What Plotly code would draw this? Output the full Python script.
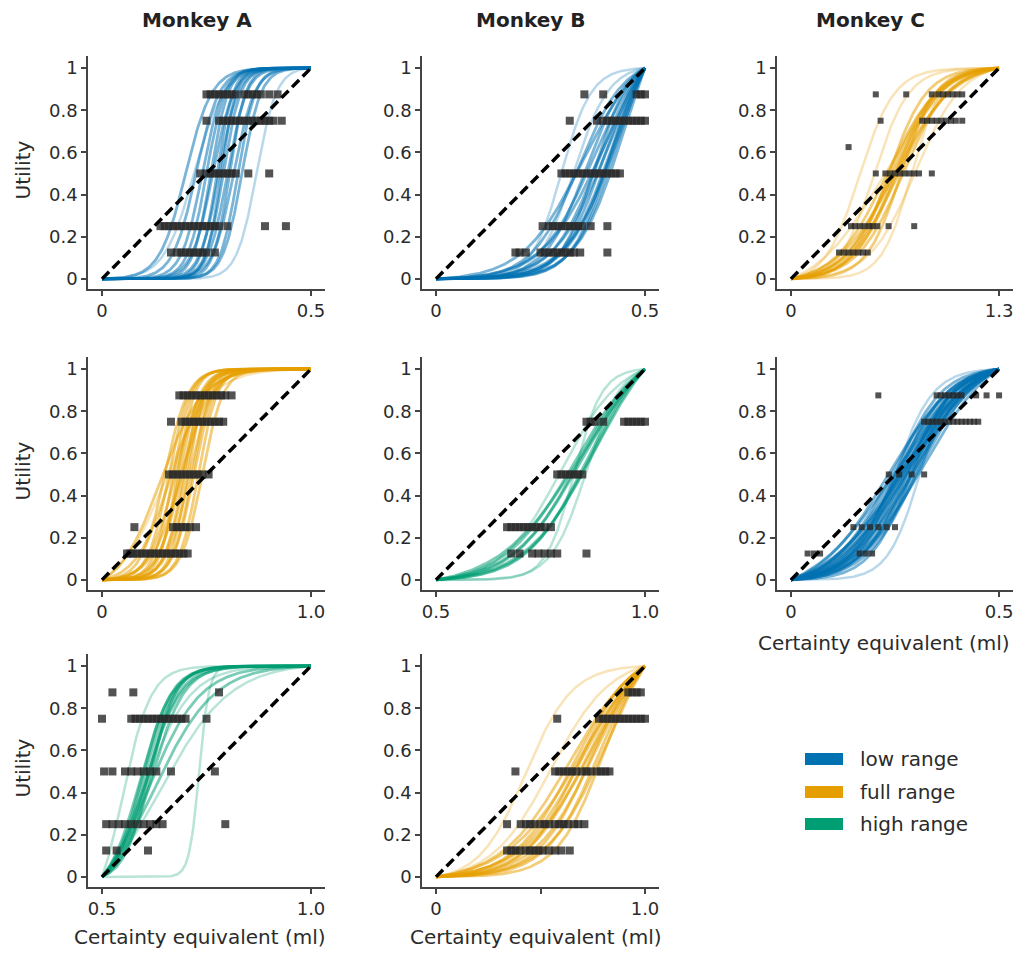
import numpy as np
import plotly.graph_objects as go

# ---------------- data ----------------
COL_TITLES = ["Monkey A", "Monkey B", "Monkey C"]
LEGEND_LABELS = ["low range", "full range", "high range"]
Y_TICKS = [0, 0.2, 0.4, 0.6, 0.8, 1]
Y_TICKTEXT = ["0", "0.2", "0.4", "0.6", "0.8", "1"]

# Panel A1: Monkey A, low range (0 - 0.5 ml)
A1_RANGE = [0.0, 0.5]
A1_XTICKS = [0.0, 0.5]
A1_XTICKTEXT = ["0", "0.5"]
A1_CENTERS = [0.40, 0.45, 0.48, 0.50, 0.52, 0.53, 0.55, 0.56, 0.57, 0.58, 0.60, 0.61, 0.63, 0.65, 0.67]
A1_SLOPES = [16, 18, 20, 22, 24, 20, 26, 22, 28, 24, 22, 26, 20, 24, 22]
A1_FAINT_CENTERS = [0.74, 0.44]
A1_FAINT_SLOPES = [21, 14]
A1_PTS = {
    0.875: [0.25, 0.26, 0.27, 0.28, 0.29, 0.30, 0.31, 0.32, 0.34, 0.35, 0.36, 0.37, 0.38, 0.40, 0.42],
    0.75: [0.25, 0.28, 0.29, 0.30, 0.31, 0.32, 0.33, 0.34, 0.35, 0.36, 0.37, 0.38, 0.39, 0.40, 0.41, 0.43],
    0.5: [0.235, 0.25, 0.26, 0.27, 0.28, 0.29, 0.30, 0.31, 0.32, 0.35, 0.40],
    0.25: [0.14, 0.15, 0.16, 0.17, 0.18, 0.19, 0.20, 0.21, 0.22, 0.23, 0.24, 0.25, 0.26, 0.27, 0.28, 0.30, 0.39, 0.44],
    0.125: [0.165, 0.18, 0.19, 0.20, 0.21, 0.22, 0.23, 0.24, 0.25, 0.27],
}

# Panel B1: Monkey B, low range (0 - 0.5 ml)
B1_RANGE = [0.0, 0.5]
B1_XTICKS = [0.0, 0.5]
B1_XTICKTEXT = ["0", "0.5"]
B1_CENTERS = [0.68, 0.72, 0.75, 0.78, 0.80, 0.82, 0.84, 0.86, 0.88, 0.90, 0.76, 0.80, 0.83, 0.85, 0.70]
B1_SLOPES = [9, 10, 8, 9, 10, 8, 9, 10, 8, 9, 12, 7, 11, 9, 7]
B1_FAINT_CENTERS = [0.60, 0.66]
B1_FAINT_SLOPES = [14, 12]
B1_PTS = {
    0.875: [0.355, 0.40, 0.48, 0.49, 0.50],
    0.75: [0.32, 0.385, 0.40, 0.41, 0.42, 0.43, 0.44, 0.45, 0.46, 0.47, 0.48, 0.49, 0.50],
    0.5: [0.30, 0.31, 0.32, 0.33, 0.34, 0.35, 0.36, 0.37, 0.38, 0.39, 0.40, 0.41, 0.42, 0.43, 0.44],
    0.25: [0.255, 0.27, 0.28, 0.29, 0.30, 0.31, 0.32, 0.33, 0.34, 0.35, 0.37, 0.41],
    0.125: [0.19, 0.20, 0.215, 0.25, 0.26, 0.27, 0.28, 0.29, 0.30, 0.31, 0.32, 0.33, 0.345, 0.41],
}

# Panel C1: Monkey C, full range (0 - 1.3 ml)
C1_RANGE = [0.0, 1.3]
C1_XTICKS = [0.0, 1.3]
C1_XTICKTEXT = ["0", "1.3"]
C1_CENTERS = [0.46, 0.48, 0.50, 0.52, 0.54, 0.50, 0.47, 0.53, 0.49, 0.51]
C1_SLOPES = [8, 9, 7, 8, 9, 10, 11, 12, 8.5, 9.5]
C1_FAINT_CENTERS = [0.33, 0.40, 0.58, 0.60, 0.44]
C1_FAINT_SLOPES = [12, 12, 14, 9, 6]
C1_PTS = {
    0.875: [0.53, 0.72, 0.88, 0.92, 0.95, 0.98, 1.01, 1.04, 1.07],
    0.75: [0.56, 0.82, 0.85, 0.88, 0.91, 0.94, 0.97, 1.00, 1.03, 1.07],
    0.625: [0.36],
    0.5: [0.53, 0.59, 0.62, 0.65, 0.68, 0.71, 0.74, 0.77, 0.80, 0.88],
    0.25: [0.375, 0.40, 0.43, 0.46, 0.49, 0.51, 0.54, 0.61, 0.77],
    0.125: [0.30, 0.33, 0.36, 0.39, 0.42, 0.45, 0.48],
}

# Panel A2: Monkey A, full range (0 - 1.0 ml)
A2_RANGE = [0.0, 1.0]
A2_XTICKS = [0.0, 1.0]
A2_XTICKTEXT = ["0", "1.0"]
A2_CENTERS = [0.28, 0.30, 0.32, 0.34, 0.35, 0.36, 0.37, 0.38, 0.39, 0.40, 0.41, 0.42, 0.43, 0.44, 0.46, 0.48, 0.33, 0.38]
A2_SLOPES = [10, 18, 20, 22, 16, 24, 20, 18, 22, 20, 24, 18, 22, 20, 22, 20, 12, 14]
A2_FAINT_CENTERS = [0.30]
A2_FAINT_SLOPES = [9]
A2_PTS = {
    0.875: [0.37, 0.39, 0.41, 0.43, 0.45, 0.47, 0.49, 0.51, 0.53, 0.55, 0.57, 0.59, 0.62],
    0.75: [0.33, 0.38, 0.40, 0.42, 0.44, 0.46, 0.48, 0.50, 0.52, 0.54, 0.56, 0.58],
    0.5: [0.32, 0.34, 0.36, 0.38, 0.40, 0.42, 0.44, 0.46, 0.48, 0.51],
    0.25: [0.155, 0.34, 0.36, 0.38, 0.40, 0.42, 0.45],
    0.125: [0.12, 0.135, 0.15, 0.17, 0.19, 0.21, 0.23, 0.25, 0.27, 0.29, 0.31, 0.33, 0.35, 0.37, 0.39, 0.41],
}

# Panel B2: Monkey B, high range (0.5 - 1.0 ml)
B2_RANGE = [0.5, 1.0]
B2_XTICKS = [0.5, 1.0]
B2_XTICKTEXT = ["0.5", "1.0"]
B2_CENTERS = [0.66, 0.68, 0.70, 0.72, 0.74, 0.70, 0.76]
B2_SLOPES = [6, 6.5, 6, 7, 6.5, 5, 6]
B2_FAINT_CENTERS = [0.66, 0.60, 0.72]
B2_FAINT_SLOPES = [15, 7, 12]
B2_PTS = {
    0.75: [0.86, 0.87, 0.88, 0.90, 0.95, 0.96, 0.97, 0.98, 0.99, 1.00],
    0.5: [0.79, 0.80, 0.81, 0.82, 0.83, 0.84, 0.85],
    0.25: [0.67, 0.68, 0.69, 0.70, 0.71, 0.72, 0.73, 0.74, 0.75, 0.76, 0.775],
    0.125: [0.68, 0.70, 0.73, 0.745, 0.76, 0.775, 0.79, 0.86],
}

# Panel C2: Monkey C, low range (0 - 0.5 ml)
C2_RANGE = [0.0, 0.5]
C2_XTICKS = [0.0, 0.5]
C2_XTICKTEXT = ["0", "0.5"]
C2_CENTERS = [0.46, 0.48, 0.50, 0.51, 0.52, 0.53, 0.54, 0.55, 0.56, 0.57, 0.58, 0.59, 0.60, 0.62, 0.64,
              0.50, 0.55, 0.58, 0.53, 0.56, 0.49, 0.52, 0.57, 0.60, 0.54, 0.61]
C2_SLOPES = [6, 7, 6.5, 8, 7, 6, 7.5, 8, 6.5, 7, 8, 7, 6, 7, 6, 9, 5, 10, 5.5, 9, 5, 8.5, 5.5, 7.5, 6.5, 8]
C2_FAINT_CENTERS = [0.50, 0.62]
C2_FAINT_SLOPES = [11, 13]
C2_PTS = {
    0.875: [0.21, 0.35, 0.36, 0.37, 0.38, 0.39, 0.40, 0.41, 0.445, 0.47, 0.50],
    0.75: [0.32, 0.33, 0.34, 0.35, 0.36, 0.37, 0.38, 0.39, 0.40, 0.41, 0.42, 0.43, 0.44, 0.45],
    0.5: [0.235, 0.26, 0.29, 0.32],
    0.25: [0.15, 0.17, 0.19, 0.21, 0.23, 0.25],
    0.125: [0.04, 0.055, 0.07, 0.165, 0.18, 0.195],
}

# Panel A3: Monkey A, high range (0.5 - 1.0 ml)
A3_RANGE = [0.5, 1.0]
A3_XTICKS = [0.5, 1.0]
A3_XTICKTEXT = ["0.5", "1.0"]
A3_CENTERS = [0.18, 0.20, 0.22, 0.24, 0.21, 0.23, 0.22, 0.25, 0.19, 0.215]
A3_SLOPES = [13, 14, 15, 13, 12, 16, 8, 7, 14, 13]
A3_FAINT_CENTERS = [0.28, 0.20, 0.10, 0.465]
A3_FAINT_SLOPES = [6, 9, 15, 42]
A3_PTS = {
    0.875: [0.525, 0.575, 0.78],
    0.75: [0.50, 0.57, 0.58, 0.59, 0.60, 0.61, 0.62, 0.63, 0.64, 0.65, 0.66, 0.67, 0.68, 0.69, 0.70, 0.75],
    0.5: [0.505, 0.525, 0.555, 0.57, 0.585, 0.60, 0.615, 0.63, 0.665, 0.77],
    0.25: [0.51, 0.525, 0.54, 0.555, 0.57, 0.585, 0.60, 0.615, 0.63, 0.645, 0.795],
    0.125: [0.51, 0.535, 0.61],
}

# Panel B3: Monkey B, full range (0 - 1.0 ml)
B3_RANGE = [0.0, 1.0]
B3_XTICKS = [0.0, 0.5, 1.0]
B3_XTICKTEXT = ["0", "", "1.0"]
B3_CENTERS = [0.66, 0.68, 0.70, 0.72, 0.74, 0.76, 0.78, 0.80, 0.70, 0.75, 0.64, 0.82]
B3_SLOPES = [7, 8, 6.5, 7, 8, 7, 8, 9, 5.5, 6, 6, 7]
B3_FAINT_CENTERS = [0.43, 0.55]
B3_FAINT_SLOPES = [9, 7]
B3_PTS = {
    0.875: [0.92, 0.94, 0.96, 0.98],
    0.75: [0.58, 0.78, 0.80, 0.82, 0.84, 0.86, 0.88, 0.90, 0.92, 0.94, 0.96, 0.98, 1.00],
    0.5: [0.38, 0.57, 0.59, 0.61, 0.63, 0.65, 0.67, 0.70, 0.72, 0.74, 0.77, 0.79, 0.81, 0.83],
    0.25: [0.34, 0.405, 0.43, 0.45, 0.47, 0.50, 0.52, 0.54, 0.57, 0.59, 0.61, 0.63, 0.66, 0.68, 0.71],
    0.125: [0.34, 0.36, 0.38, 0.40, 0.43, 0.45, 0.47, 0.49, 0.51, 0.54, 0.57, 0.60, 0.64],
}

# ---------------- styling / layout ----------------
W, H = 1016, 956
FONT = "DejaVu Sans"
TXT = "#2b2b2b"
AXC = "#444444"
COLORS = {"low": (0, 114, 178), "full": (230, 159, 0), "high": (0, 158, 115)}

COL_PX = {"A": (88, 325), "B": (422, 659), "C": (777, 1013)}
ROW_PX = {1: (56, 289), 2: (357, 590), 3: (654, 887)}

PANELS = [
    ("A", 1, "low", A1_RANGE, A1_XTICKS, A1_XTICKTEXT, A1_CENTERS, A1_SLOPES, A1_FAINT_CENTERS, A1_FAINT_SLOPES, A1_PTS, 8),
    ("B", 1, "low", B1_RANGE, B1_XTICKS, B1_XTICKTEXT, B1_CENTERS, B1_SLOPES, B1_FAINT_CENTERS, B1_FAINT_SLOPES, B1_PTS, 8),
    ("C", 1, "full", C1_RANGE, C1_XTICKS, C1_XTICKTEXT, C1_CENTERS, C1_SLOPES, C1_FAINT_CENTERS, C1_FAINT_SLOPES, C1_PTS, 6),
    ("A", 2, "full", A2_RANGE, A2_XTICKS, A2_XTICKTEXT, A2_CENTERS, A2_SLOPES, A2_FAINT_CENTERS, A2_FAINT_SLOPES, A2_PTS, 8),
    ("B", 2, "high", B2_RANGE, B2_XTICKS, B2_XTICKTEXT, B2_CENTERS, B2_SLOPES, B2_FAINT_CENTERS, B2_FAINT_SLOPES, B2_PTS, 8),
    ("C", 2, "low", C2_RANGE, C2_XTICKS, C2_XTICKTEXT, C2_CENTERS, C2_SLOPES, C2_FAINT_CENTERS, C2_FAINT_SLOPES, C2_PTS, 6),
    ("A", 3, "high", A3_RANGE, A3_XTICKS, A3_XTICKTEXT, A3_CENTERS, A3_SLOPES, A3_FAINT_CENTERS, A3_FAINT_SLOPES, A3_PTS, 8),
    ("B", 3, "full", B3_RANGE, B3_XTICKS, B3_XTICKTEXT, B3_CENTERS, B3_SLOPES, B3_FAINT_CENTERS, B3_FAINT_SLOPES, B3_PTS, 8),
]


def utility_curve(t, c, k):
    """normalised logistic utility on [0,1] -> [0,1]"""
    L = 1.0 / (1.0 + np.exp(-k * (t - c)))
    L0 = 1.0 / (1.0 + np.exp(k * c))
    L1 = 1.0 / (1.0 + np.exp(-k * (1 - c)))
    return (L - L0) / (L1 - L0)


def rgba(rgb, a):
    return "rgba(%d,%d,%d,%.2f)" % (rgb[0], rgb[1], rgb[2], a)


fig = go.Figure()
layout = {}
tgrid = np.linspace(0, 1, 241)

for i, (col, row, rng, xr, xt, xtt, cs, ks, fcs, fks, pts, msize) in enumerate(PANELS, start=1):
    xa = "x" if i == 1 else "x%d" % i
    ya = "y" if i == 1 else "y%d" % i
    rgb = COLORS[rng]
    xmin, xmax = xr
    span = xmax - xmin
    xs = xmin + tgrid * span

    for c, k in zip(fcs, fks):
        fig.add_trace(go.Scatter(x=xs, y=utility_curve(tgrid, c, k), mode="lines",
                                 line=dict(color=rgba(rgb, 0.28), width=2.5),
                                 xaxis=xa, yaxis=ya, showlegend=False, hoverinfo="skip"))
    for c, k in zip(cs, ks):
        fig.add_trace(go.Scatter(x=xs, y=utility_curve(tgrid, c, k), mode="lines",
                                 line=dict(color=rgba(rgb, 0.52), width=2.8),
                                 xaxis=xa, yaxis=ya, showlegend=False, hoverinfo="skip"))

    px_, py_ = [], []
    for u, xv in pts.items():
        px_ += list(xv)
        py_ += [u] * len(xv)
    fig.add_trace(go.Scatter(x=px_, y=py_, mode="markers",
                             marker=dict(symbol="square", size=msize, color="rgba(40,40,40,0.8)",
                                         line=dict(width=0)),
                             xaxis=xa, yaxis=ya, showlegend=False))

    fig.add_trace(go.Scatter(x=[xmin, xmax], y=[0, 1], mode="lines",
                             line=dict(color="black", width=3.5, dash="10px,5px"),
                             xaxis=xa, yaxis=ya, showlegend=False))

    c0, c1 = COL_PX[col]
    r0, r1 = ROW_PX[row]
    pad = 0.067 * span
    common = dict(showline=True, linecolor=AXC, linewidth=1.5, ticks="outside", ticklen=5,
                  tickwidth=1.5, tickcolor=AXC, showgrid=False, zeroline=False,
                  tickfont=dict(family=FONT, size=18, color=TXT))
    layout["xaxis" if i == 1 else "xaxis%d" % i] = dict(
        domain=[c0 / W, c1 / W], anchor=ya, range=[xmin - pad, xmax + pad],
        tickvals=xt, ticktext=xtt, **common)
    layout["yaxis" if i == 1 else "yaxis%d" % i] = dict(
        domain=[1 - r1 / H, 1 - r0 / H], anchor=xa, range=[-0.048, 1.057],
        tickvals=Y_TICKS, ticktext=Y_TICKTEXT, **common)

annotations = []
for title, cx in zip(COL_TITLES, [197, 530, 870]):
    annotations.append(dict(text="<b>%s</b>" % title, x=cx / W, y=1 - 20 / H, xref="paper", yref="paper",
                            showarrow=False, xanchor="center", yanchor="middle",
                            font=dict(family=FONT, size=20, color="#222")))
for row in (1, 2, 3):
    r0, r1 = ROW_PX[row]
    annotations.append(dict(text="Utility", x=22 / W, y=1 - ((r0 + r1) / 2 - 2) / H, xref="paper", yref="paper",
                            showarrow=False, textangle=-90, xanchor="center", yanchor="middle",
                            font=dict(family=FONT, size=20, color=TXT)))
for cx, cy in [(200, 937), (536, 937), (884, 643)]:
    annotations.append(dict(text="Certainty equivalent (ml)", x=cx / W, y=1 - cy / H, xref="paper", yref="paper",
                            showarrow=False, xanchor="center", yanchor="middle",
                            font=dict(family=FONT, size=20, color=TXT)))

shapes = []
for lab, key, cy in zip(LEGEND_LABELS, ["low", "full", "high"], [759, 792, 824]):
    shapes.append(dict(type="rect", xref="paper", yref="paper", x0=805 / W, x1=843 / W,
                       y0=1 - (cy + 6) / H, y1=1 - (cy - 6) / H,
                       fillcolor=rgba(COLORS[key], 1.0), line=dict(width=0)))
    annotations.append(dict(text=lab, x=858 / W, y=1 - cy / H, xref="paper", yref="paper",
                            showarrow=False, xanchor="left", yanchor="middle",
                            font=dict(family=FONT, size=20, color=TXT)))

fig.update_layout(width=W, height=H, margin=dict(l=0, r=0, t=0, b=0, autoexpand=False),
                  paper_bgcolor="white", plot_bgcolor="white",
                  annotations=annotations, shapes=shapes, showlegend=False, **layout)

fig.write_html("out.html", config={"displayModeBar": False},
               post_script="document.body.style.margin='0';document.body.style.padding='0';")
